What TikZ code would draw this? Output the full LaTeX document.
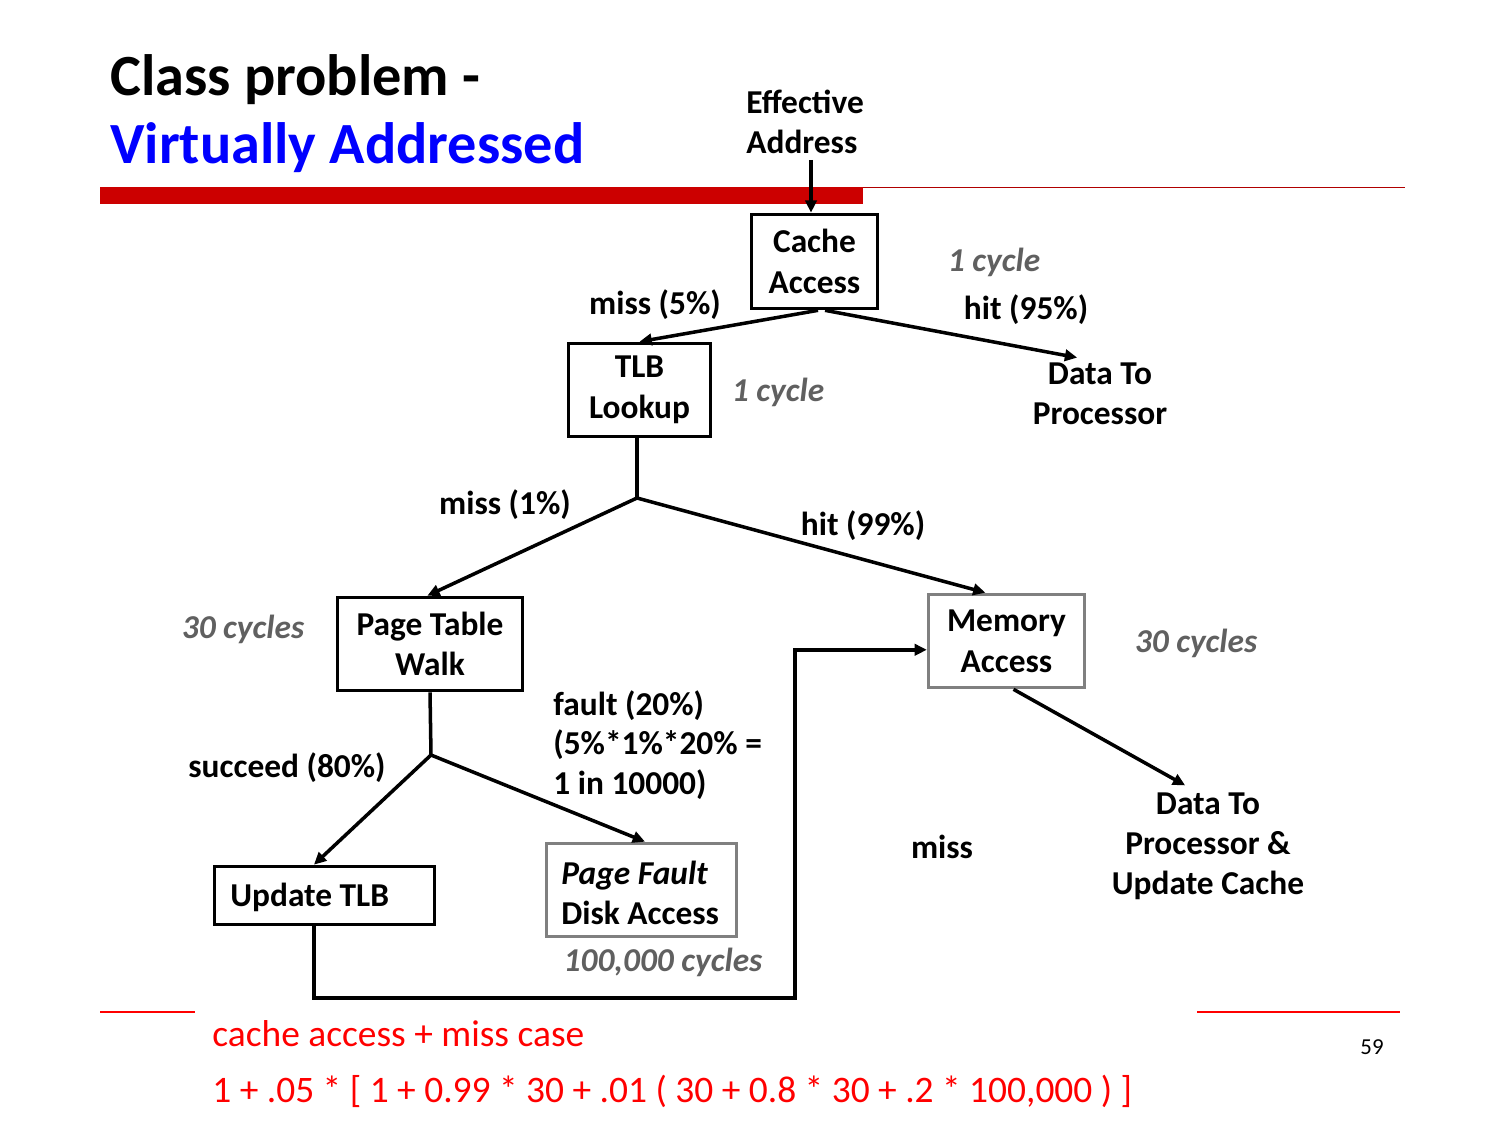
\documentclass[tikz,border=0pt]{standalone}
\usepackage{fontspec}
\setmainfont{Carlito}
\usetikzlibrary{arrows.meta}
\definecolor{barred}{RGB}{204,0,0}
\definecolor{rulered}{RGB}{176,0,0}
\definecolor{cyclegray}{RGB}{96,96,96}
\definecolor{boxgray}{RGB}{128,128,128}
\definecolor{titleblue}{RGB}{0,0,255}
\definecolor{formred}{RGB}{255,0,0}
\tikzset{
  lbl/.style={font=\fontsize{19}{22.7}\selectfont\bfseries, inner sep=0pt, align=center, yshift=-1.2pt},
  cyc/.style={lbl, font=\fontsize{19}{22.7}\selectfont\bfseries\itshape, text=cyclegray},
  stagebox/.style={draw, line width=1.7pt, inner sep=0pt, align=center,
    font=\fontsize{19}{23.2}\selectfont\bfseries},
  graybox/.style={stagebox, draw=boxgray},
  arr/.style={line width=2pt, -{Triangle[length=7pt,width=6.5pt]}},
  ln/.style={line width=2pt},
  headline/.style={anchor=base west, inner sep=0pt, font=\fontsize{33.2}{40}\selectfont\bfseries},
  formula/.style={font=\fontsize{21.3}{25}\selectfont, text=formred, inner sep=0pt, anchor=base west}
}
\begin{document}
\begin{tikzpicture}[x=0.02cm, y=-0.02cm]
\path[use as bounding box] (0,0) rectangle (1500,1125);

% title and header rules
\node[headline] (t1) at (110,96) {Class problem -};
\node[headline, text=titleblue] (t2) at (110,164) {Virtually Addressed};
\fill[barred] (100,187) rectangle (863,204);
\draw[rulered, line width=0.6pt] (863,187.5) -- (1405,187.5);

% footer rules
\draw[formred, line width=0.6pt] (100,1012) -- (195,1012);
\draw[formred, line width=0.6pt] (1197,1012) -- (1400,1012);

% stages
\node[lbl, anchor=west, align=left] (ea) at (746,120) {Effective\\Address};
\node[stagebox, minimum width=72pt, minimum height=53.9pt] (cache) at (814.5,261.5) {Cache\\Access};
\node[stagebox, minimum width=81.1pt, minimum height=53.3pt] (tlb) at (639.5,390) {TLB\\Lookup};
\node[lbl] (dtp) at (1100,392) {Data To\\Processor};
\node[stagebox, minimum width=105.4pt, minimum height=53.3pt] (ptw) at (430,644) {Page Table\\Walk};
\node[graybox, minimum width=89pt, minimum height=53.3pt] (mem) at (1006.5,641) {Memory\\Access};
\node[stagebox, minimum width=125.3pt, minimum height=33.4pt] (utlb) at (324.5,895.5) {};
\node[lbl, anchor=west] (utlbtext) at (230,895) {Update TLB};
\node[graybox, minimum width=108.3pt, minimum height=53.3pt] (pf) at (641.5,890) {};
\node[lbl, anchor=west, align=left] (pftext) at (561,891) {\textit{Page Fault}\\Disk Access};
\node[lbl] (dpu) at (1208,844) {Data To\\Processor \&\\Update Cache};

% labels
\node[cyc] (c1) at (994,260) {1 cycle};
\node[lbl] (m5) at (655,303) {miss (5\%)};
\node[lbl] (h95) at (1026,308) {hit (95\%)};
\node[cyc] (c2) at (778,390) {1 cycle};
\node[lbl] (m1) at (505,503) {miss (1\%)};
\node[lbl] (h99) at (863,524) {hit (99\%)};
\node[cyc] (c3) at (243,627) {30 cycles};
\node[cyc] (c4) at (1196,641) {30 cycles};
\node[lbl] (s80) at (287,766) {succeed (80\%)};
\node[lbl, anchor=west, align=left] (f20) at (553,743) {fault (20\%)\\(5\%*1\%*20\% =\\1 in 10000)};
\node[lbl] (miss) at (942,845) {miss};
\node[cyc] (c5) at (663,960) {100,000 cycles};

% junctions
\coordinate (eaend) at (811,160);
\coordinate (j1) at (637,498);
\coordinate (j2) at (431,755);
\coordinate (loop) at (795,998);

% connectors
\draw[arr] (eaend) -- (eaend |- cache.north);
\draw[arr] ([xshift=2pt]cache.south) -- (tlb.north);
\draw[arr] ([xshift=6pt]cache.south) -- ([xshift=-13pt,yshift=3pt]dtp.north);
\draw[ln] (tlb.south -| j1) -- (j1);
\draw[arr] (j1) -- ([xshift=-1.5pt]ptw.north);
\draw[arr] (j1) -- ([xshift=-12pt]mem.north);
\draw[ln] (ptw.south) -- (j2);
\draw[arr] (j2) -- ([xshift=-6pt]utlb.north);
\draw[arr] (j2) -- ([xshift=2pt]pf.north);
\draw[arr] ([xshift=-6pt]utlb.south) |- (loop) |- ([yshift=-5pt]mem.west);
\draw[arr] ([xshift=4pt]mem.south) -- ([xshift=-13pt,yshift=4pt]dpu.north);

% cost formula
\node[formula] (f1) at (212,1046) {cache access + miss case};
\node[formula] (f2) at (212,1102) {1 + .05 * [ 1 + 0.99 * 30 + .01 ( 30 + 0.8 * 30 + .2 * 100,000 ) ]};
\node[font=\fontsize{13}{15}\selectfont, inner sep=0pt] (pg) at (1372,1047) {59};
\end{tikzpicture}
\end{document}
